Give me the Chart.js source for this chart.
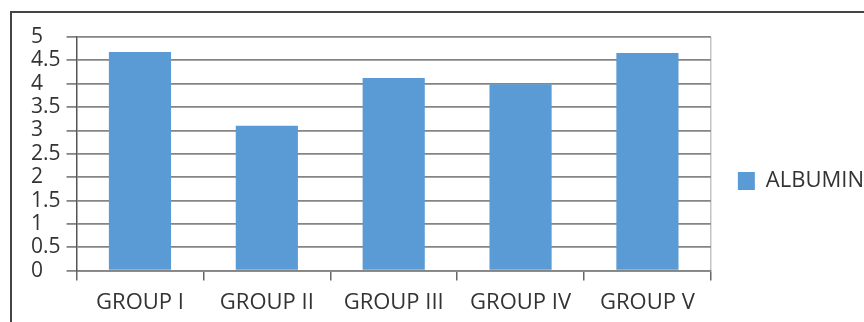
<!DOCTYPE html>
<html lang="en">
  <head>
    <meta charset="UTF-8">
    <title>Albumin</title>
    <script src="https://cdn.jsdelivr.net/npm/chart.js"></script>
    <style>
      html, body{margin: 0; padding: 0; background: #fff; overflow: hidden;}
      #frame{position: absolute; left: 10px; top: 11px; width: 900px; height: 400px;
        border-left: 2px solid #444; border-top: 2px solid #444;}
      #wrap{position: absolute; left: 0; top: 0; width: 874px; height: 325px;}
    </style>
  </head>
  <body>
    <div id="frame"></div>
    <div id="wrap"><canvas id="myChart" width="874" height="325"></canvas></div>
    <script>
      // data
      const groups = ['GROUP I', 'GROUP II', 'GROUP III', 'GROUP IV', 'GROUP V'];
      const albumin = [4.68, 3.1, 4.12, 3.99, 4.66];
      const seriesName = 'ALBUMIN';

      const textColor = '#333';

      new Chart(document.getElementById('myChart'), {
        type: 'bar',
        data: {
          labels: groups,
          datasets: [{
            label: seriesName,
            data: albumin,
            backgroundColor: '#5b9bd5',
            borderWidth: 0,
            categoryPercentage: 1,
            barPercentage: 0.49
          }]
        },
        options: {
          responsive: false,
          devicePixelRatio: 1,
          animation: false,
          layout: {padding: {left: 31, top: 37, right: 0, bottom: 0}},
          plugins: {
            tooltip: {enabled: false},
            legend: {
              position: 'right',
              labels: {
                boxWidth: 17,
                boxHeight: 18,
                padding: 27,
                color: textColor,
                font: {family: 'Open Sans', size: 22}
              }
            }
          },
          scales: {
            x: {
              grid: {
                offset: true,
                drawOnChartArea: true,
                color: (ctx) => ctx.type === 'scale' ? '#c4c4c4' : 'rgba(0,0,0,0)',
                tickColor: '#666',
                tickLength: 10,
                lineWidth: 1.5
              },
              border: {color: '#858585', width: 1.8},
              ticks: {
                color: textColor,
                padding: 9,
                maxRotation: 0,
                font: {family: 'Open Sans', size: 22}
              }
            },
            y: {
              min: 0,
              max: 5,
              grid: {
                color: '#858585',
                lineWidth: 1.8,
                tickLength: 10
              },
              border: {color: '#555', width: 1.5},
              ticks: {
                stepSize: 0.5,
                autoSkip: false,
                color: textColor,
                padding: 3,
                crossAlign: 'far',
                font: {family: 'Open Sans', size: 21, lineHeight: 1.1},
                callback: (v) => String(Number(v))
              }
            }
          }
        }
      });
    </script>
  </body>
</html>
